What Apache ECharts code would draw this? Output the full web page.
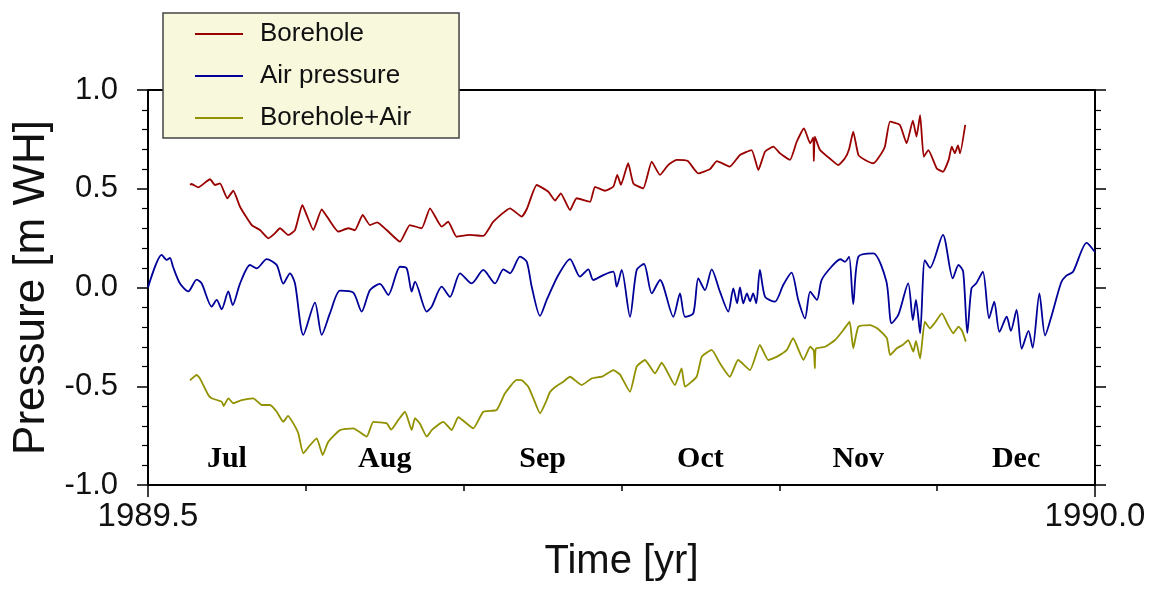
<!DOCTYPE html>
<html>
<head>
<meta charset="utf-8">
<script src="https://cdn.jsdelivr.net/npm/echarts@6/dist/echarts.min.js"></script>
<style>
html,body{margin:0;padding:0;background:#fff;}
#chart{width:1155px;height:593px;}
</style>
</head>
<body>
<div id="chart"></div>
<script>
// Time in days since 1989.5 (axis shown in years)
var months = ['Jul', 'Aug', 'Sep', 'Oct', 'Nov', 'Dec'];
var xTickLabels = ['1989.5', '1990.0'];
var seriesNames = ['Borehole', 'Air pressure', 'Borehole+Air'];

var airDay = [0, 2.64, 3.6, 4.24, 4.82, 6.17, 7.77, 9.39, 10.36, 12.28,
  13.25, 14.21, 15.49, 16.33, 17.74, 19.67, 20.96, 22.89, 24.82, 26.09,
  27.38, 28.35, 29.95, 32.2, 33.5, 35.1, 37.03, 39.59, 41.21, 42.81,
  44.74, 46.34, 48.6, 49.89, 50.85, 51.49, 53.75, 54.71, 56.64, 58.24,
  60.17, 62.42, 64.66, 66.92, 68.52, 69.81, 71.74, 73.03, 74, 75.6,
  76.89, 79.13, 81.38, 83.31, 84.91, 85.87, 87.8, 89.73, 90.39, 91.35,
  92.95, 94.24, 95.65, 97.14, 98.74, 101.3, 102.59, 103.56, 105.16, 106.12,
  107.41, 108.7, 110.3, 111.91, 112.87, 113.6, 114.16, 114.8, 115.5, 116.1,
  116.7, 117.3, 118.0, 119.0, 120.9, 122.5, 124.1, 125.4, 126.7, 127.7,
  129.0, 129.9, 131.8, 133.5, 134.4, 135.2, 136.0, 137.0, 139.9, 142.4,
  143.4, 144.7, 146.6, 147.5, 148.1, 148.9, 149.8, 150.8, 153.3, 155.2,
  156.3, 157.2, 158.0, 158.8, 159.7, 161.0, 162.2, 163.2, 164.2, 165.6,
  166.4, 167.5, 168.5, 169.8, 170.6, 171.9, 173.0, 174.3, 176.1, 177.1,
  178.4, 181.0, 182.6];
var airVal = [0.00, 0.165, 0.14, 0.15, 0.105, 0.02, -0.02, 0.04, 0.02, -0.097,
  -0.063, -0.11, -0.02, -0.089, 0.02, 0.114, 0.097, 0.144, 0.114, 0.02,
  0.072, 0.02, -0.24, -0.077, -0.24, -0.13, -0.016, -0.026, -0.122, -0.013,
  0.018, -0.038, 0.105, 0.097, -0.021, 0.03, -0.122, -0.097, 0.004, -0.047,
  0.072, 0.021, 0.089, 0.021, 0.092, 0.072, 0.156, 0.131, 0.004, -0.144,
  -0.063, 0.063, 0.144, 0.055, 0.092, 0.038, 0.063, 0.08, 0.004, 0.089,
  -0.148, 0.089, 0.119, -0.03, 0.038, -0.148, -0.03, -0.148, -0.131, 0.046,
  -0.013, 0.092, -0.021, -0.122, -0.004, -0.08, 0.0, -0.08, -0.03, -0.07,
  -0.03, -0.08, 0.089, -0.047, -0.072, 0.013, 0.075, -0.063, -0.156, -0.021,
  -0.063, 0.038, 0.105, 0.143, 0.13, 0.156, -0.084, 0.156, 0.173, 0.03,
  -0.181, -0.139, 0.021, -0.165, -0.063, -0.232, 0.139, 0.1, 0.266, 0.046,
  0.114, 0.08, -0.23, -0.004, 0.02, 0.08, -0.156, -0.072, -0.225, -0.148,
  -0.22, -0.114, -0.31, -0.22, -0.305, -0.03, -0.243, -0.139, 0.025, 0.06,
  0.08, 0.226, 0.18];

var bhDay = [8.1, 8.4, 9.7, 11.96, 12.92, 13.88, 15.29, 16.45, 17.74, 20.0,
  21.6, 23.2, 24.3, 25.46, 27.06, 28.35, 29.76, 30.6, 31.88, 33.5,
  34.5, 36.7, 38.63, 39.9, 41.4, 42.8, 44.2, 46.03, 48.6, 50.5,
  52.78, 54.38, 56.64, 57.9, 59.5, 62.1, 64.66, 66.6, 69.81, 72.07,
  73.1, 74.96, 77.2, 78.5, 79.6, 81.38, 82.66, 85.24, 86.2, 88.1,
  89.73, 90.5, 91.2, 92.6, 93.6, 95.5, 97.14, 98.74, 100.3, 101.96,
  104.1, 106.1, 108.4, 109.7, 112.2, 114.16, 116.4, 117.7, 119.0, 120.6,
  121.9, 123.8, 125.1, 126.5, 127.7, 128.3, 128.4, 128.6, 129.6, 131.8,
  133.1, 134.4, 135.2, 136.0, 137.0, 138.3, 139.9, 140.8, 142.1, 143.1,
  145.0, 146.3, 147.5, 148.2, 148.9, 149.6, 150.5, 152.1, 153.3, 154.4,
  155.0, 155.6, 156.2, 156.6, 157.6];
var bhVal = [0.52, 0.524, 0.507, 0.548, 0.519, 0.527, 0.452, 0.49, 0.409, 0.316,
  0.291, 0.249, 0.27, 0.3, 0.266, 0.291, 0.418, 0.367, 0.291, 0.396,
  0.36, 0.283, 0.3, 0.29, 0.367, 0.316, 0.33, 0.291, 0.232, 0.316,
  0.3, 0.401, 0.308, 0.333, 0.257, 0.266, 0.261, 0.333, 0.401, 0.359,
  0.4, 0.519, 0.485, 0.44, 0.477, 0.392, 0.452, 0.434, 0.51, 0.49,
  0.51, 0.57, 0.52, 0.629, 0.527, 0.502, 0.637, 0.57, 0.62, 0.646,
  0.64, 0.578, 0.6, 0.64, 0.612, 0.671, 0.696, 0.595, 0.688, 0.713,
  0.679, 0.646, 0.738, 0.806, 0.73, 0.76, 0.64, 0.764, 0.696, 0.646,
  0.62, 0.654, 0.7, 0.789, 0.671, 0.646, 0.629, 0.654, 0.713, 0.84,
  0.823, 0.73, 0.845, 0.764, 0.873, 0.662, 0.696, 0.603, 0.586, 0.646,
  0.713, 0.68, 0.72, 0.679, 0.823];

var cbDay = [8.1, 9.39, 10.0, 11.63, 12.28, 14.21, 14.6, 15.49, 16.45, 18.07,
  20.31, 21.93, 23.53, 24.82, 26.09, 27.0, 28.02, 28.98, 29.95, 31.2,
  32.53, 33.69, 34.77, 37.03, 39.59, 42.18, 43.45, 46.03, 46.9, 48.27,
  49.56, 50.85, 51.49, 52.45, 53.75, 54.8, 56.95, 58.57, 59.84, 62.73,
  64.66, 67.24, 68.85, 71.1, 72.1, 73.34, 74.3, 75.6, 76.89, 77.5,
  78.7, 80.1, 81.38, 83.64, 85.57, 87.7, 89.73, 91.0, 92.95, 94.24,
  95.84, 97.77, 99.06, 101.6, 102.9, 103.56, 105.8, 106.8, 108.7, 110.3,
  112.2, 113.8, 116.1, 118.0, 119.6, 121.3, 123.2, 124.4, 126.4, 127.7,
  128.4, 128.6, 128.8, 130.6, 132.5, 134.1, 135.3, 136.0, 137.0, 139.3,
  140.8, 142.5, 143.1, 144.4, 145.6, 146.6, 147.6, 148.1, 148.9, 149.8,
  150.8, 151.7, 153.1, 154.3, 155.3, 156.3, 157.0, 157.7];
var cbVal = [-0.47, -0.443, -0.46, -0.544, -0.561, -0.578, -0.6, -0.561, -0.586, -0.57,
  -0.561, -0.595, -0.595, -0.629, -0.68, -0.65, -0.688, -0.738, -0.84, -0.8,
  -0.764, -0.848, -0.781, -0.722, -0.713, -0.755, -0.68, -0.688, -0.72, -0.671,
  -0.629, -0.722, -0.662, -0.69, -0.755, -0.72, -0.68, -0.722, -0.657, -0.713,
  -0.629, -0.62, -0.536, -0.468, -0.47, -0.502, -0.56, -0.637, -0.57, -0.53,
  -0.5, -0.477, -0.452, -0.494, -0.46, -0.45, -0.418, -0.44, -0.528, -0.401,
  -0.367, -0.435, -0.381, -0.494, -0.409, -0.502, -0.452, -0.35, -0.316, -0.384,
  -0.452, -0.367, -0.418, -0.291, -0.367, -0.35, -0.316, -0.257, -0.367, -0.3,
  -0.32, -0.409, -0.31, -0.3, -0.266, -0.215, -0.173, -0.308, -0.198, -0.19,
  -0.21, -0.257, -0.342, -0.308, -0.29, -0.266, -0.325, -0.27, -0.36, -0.173,
  -0.207, -0.18, -0.131, -0.19, -0.232, -0.198, -0.22, -0.274];

var HALF_YEAR_DAYS = 182.625;
var MONTH_DAYS = HALF_YEAR_DAYS / 6;

function zip(d, v) {
  var out = [];
  for (var i = 0; i < Math.min(d.length, v.length); i++) out.push([d[i], v[i]]);
  return out;
}

var chart = echarts.init(document.getElementById('chart'), null, {renderer: 'canvas'});
var sans = 'Liberation Sans, Arial, Helvetica, sans-serif';
var black = '#000';
var colors = ['#990000', '#000099', '#919100'];

var option = {
  animation: false,
  backgroundColor: '#fff',
  grid: {left: 148, top: 90, width: 947, height: 395, containLabel: false},
  legend: {
    orient: 'vertical',
    left: 163, top: 13,
    padding: [8, 48, 7, 32],
    icon: 'rect',
    itemWidth: 48, itemHeight: 2, itemGap: 16,
    backgroundColor: '#f8f8dc',
    borderColor: '#444', borderWidth: 1.5,
    textStyle: {fontFamily: sans, fontSize: 26, color: '#111', padding: [0, 0, 0, 12], lineHeight: 26},
    data: seriesNames
  },
  xAxis: [
    {
      type: 'value', min: 0, max: HALF_YEAR_DAYS, interval: HALF_YEAR_DAYS,
      position: 'bottom',
      axisLine: {show: true, onZero: false, lineStyle: {color: black, width: 2}},
      axisTick: {show: true, length: 12, lineStyle: {color: black, width: 1.5}},
      axisLabel: {
        show: true, margin: 15, fontFamily: sans, fontSize: 33, color: '#111',
        formatter: function (v) { return Math.abs(v) < 1e-6 ? xTickLabels[0] : xTickLabels[1]; }
      },
      splitLine: {show: false},
      name: 'Time [yr]', nameLocation: 'middle', nameGap: 57,
      nameTextStyle: {fontFamily: sans, fontSize: 40, color: '#111'}
    },
    {
      type: 'value', min: 0, max: HALF_YEAR_DAYS, interval: MONTH_DAYS,
      position: 'bottom',
      axisLine: {show: false, onZero: false},
      axisTick: {show: true, length: 6, lineStyle: {color: black, width: 1.5}},
      axisLabel: {show: false},
      splitLine: {show: false}
    },
    {
      type: 'category', data: months, boundaryGap: true,
      position: 'bottom',
      axisLine: {show: false, onZero: false},
      axisTick: {show: false},
      axisLabel: {
        show: true, inside: true, margin: 11, interval: 0,
        fontFamily: 'Liberation Serif, Times New Roman, serif', fontWeight: 'bold',
        fontSize: 30, color: '#000'
      },
      splitLine: {show: false}
    },
    {
      type: 'value', min: 0, max: HALF_YEAR_DAYS,
      position: 'top',
      axisLine: {show: true, onZero: false, lineStyle: {color: black, width: 2}},
      axisTick: {show: false}, axisLabel: {show: false}, splitLine: {show: false}
    }
  ],
  yAxis: [
    {
      type: 'value', min: -1, max: 1, interval: 0.5, position: 'left',
      axisLine: {show: true, onZero: false, lineStyle: {color: black, width: 2}},
      axisTick: {show: true, length: 11, lineStyle: {color: black, width: 1.5}},
      minorTick: {show: true, splitNumber: 5, length: 6, lineStyle: {color: black, width: 1.2}},
      axisLabel: {
        show: true, margin: 30, fontFamily: sans, fontSize: 31, color: '#111',
        formatter: function (v) { return v.toFixed(1); }
      },
      splitLine: {show: false}, minorSplitLine: {show: false},
      name: 'Pressure [m WH]', nameLocation: 'middle', nameGap: 87,
      nameTextStyle: {fontFamily: sans, fontSize: 44, color: '#111'}
    },
    {
      type: 'value', min: -1, max: 1, interval: 0.5, position: 'right',
      axisLine: {show: true, onZero: false, lineStyle: {color: black, width: 2}},
      axisTick: {show: true, length: 11, lineStyle: {color: black, width: 1.5}},
      minorTick: {show: true, splitNumber: 5, length: 6, lineStyle: {color: black, width: 1.2}},
      axisLabel: {show: false},
      splitLine: {show: false}, minorSplitLine: {show: false}
    }
  ],
  series: [
    {
      name: seriesNames[0], type: 'line', xAxisIndex: 0, yAxisIndex: 0,
      data: zip(bhDay, bhVal), symbol: 'none', showSymbol: false, smooth: 0.15,
      lineStyle: {color: colors[0], width: 1.8}, itemStyle: {color: colors[0]}
    },
    {
      name: seriesNames[1], type: 'line', xAxisIndex: 0, yAxisIndex: 0,
      data: zip(airDay, airVal), symbol: 'none', showSymbol: false, smooth: 0.25,
      lineStyle: {color: colors[1], width: 1.8}, itemStyle: {color: colors[1]}
    },
    {
      name: seriesNames[2], type: 'line', xAxisIndex: 0, yAxisIndex: 0,
      data: zip(cbDay, cbVal), symbol: 'none', showSymbol: false, smooth: 0.15,
      lineStyle: {color: colors[2], width: 1.8}, itemStyle: {color: colors[2]}
    }
  ]
};
chart.setOption(option);
</script>
</body>
</html>
